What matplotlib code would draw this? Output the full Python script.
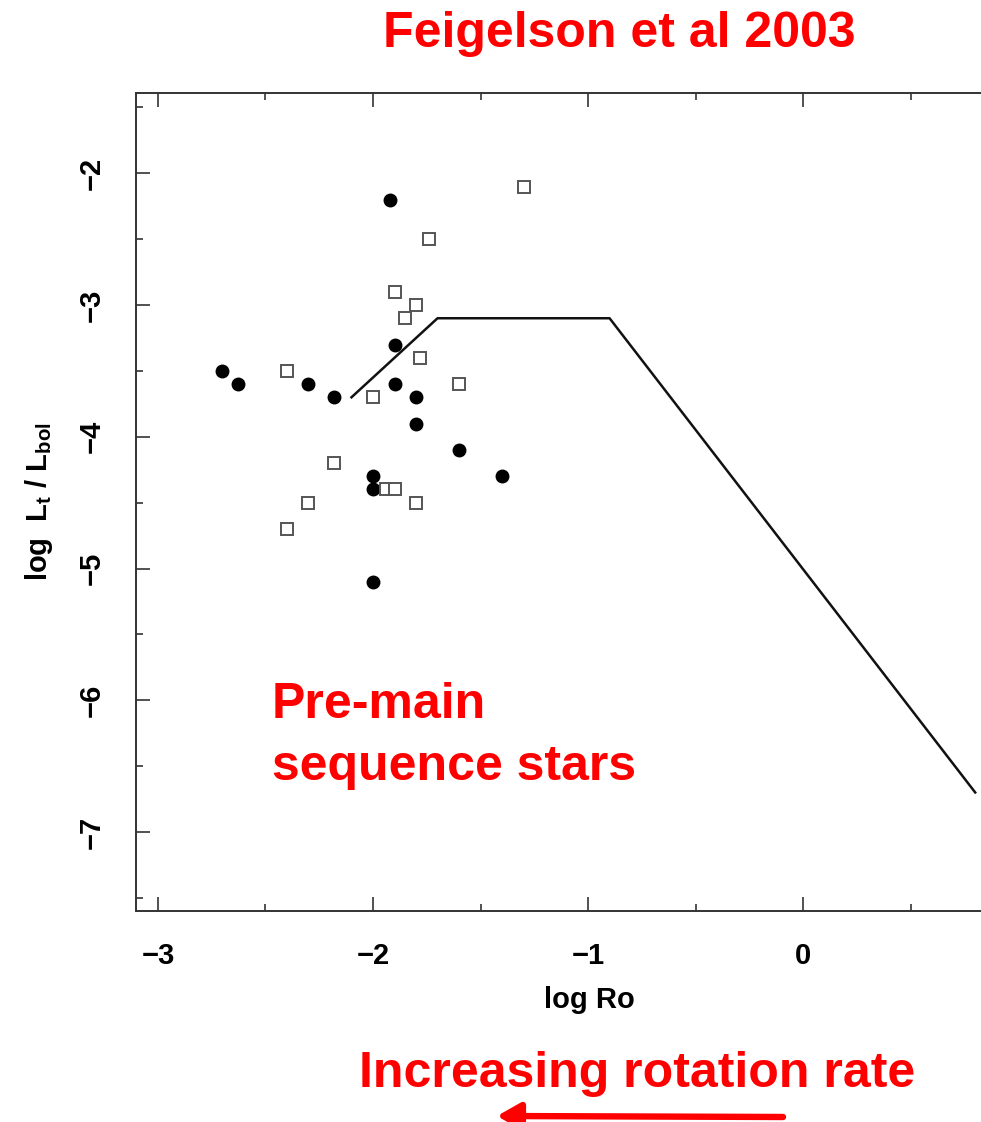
import numpy as np
import matplotlib.pyplot as plt
from matplotlib.patches import FancyArrowPatch
from matplotlib.ticker import MultipleLocator

# filled circles
circ_x = [-2.70, -2.63, -2.30, -2.18, -1.92, -1.90, -1.90, -1.80, -1.80, -1.60, -2.00, -1.40, -2.00, -2.00]
circ_y = [-3.50, -3.60, -3.60, -3.70, -2.20, -3.30, -3.60, -3.70, -3.90, -4.10, -4.30, -4.30, -4.40, -5.10]

# open squares
sq_x = [-1.30, -1.74, -1.90, -1.80, -1.85, -1.78, -2.40, -1.60, -2.00, -2.18, -1.94, -1.90, -2.30, -1.80, -2.40]
sq_y = [-2.10, -2.50, -2.90, -3.00, -3.10, -3.40, -3.50, -3.60, -3.70, -4.20, -4.40, -4.40, -4.50, -4.50, -4.70]

# saturation relation
rel_x = [-2.10, -1.70, -0.90, 0.80]
rel_y = [-3.70, -3.10, -3.10, -6.70]

W, H = 981, 1122
fig = plt.figure(figsize=(W / 100, H / 100), dpi=100)
ax = fig.add_axes([136 / W, 1 - 911 / H, (W - 136) / W, (911 - 93) / H])

ax.plot(rel_x, rel_y, color="#111111", lw=1.8, zorder=2)
ax.plot(circ_x, circ_y, "o", ms=9, color="black", zorder=3)
ax.plot(sq_x, sq_y, "s", ms=8, mfc="white", mec="#555555", mew=1.4, zorder=3)

ax.set_xlim(-3.102, 0.827)
ax.set_ylim(-7.60, -1.39)

ax.xaxis.set_major_locator(MultipleLocator(1))
ax.xaxis.set_minor_locator(MultipleLocator(0.5))
ax.yaxis.set_major_locator(MultipleLocator(1))
ax.yaxis.set_minor_locator(MultipleLocator(0.5))

ax.spines["right"].set_visible(False)
for s in ["left", "top", "bottom"]:
    ax.spines[s].set_linewidth(1.4)
    ax.spines[s].set_color("#333333")

ax.tick_params(which="both", direction="in", top=True, right=False, color="#333333", width=1.2)
ax.tick_params(which="major", length=10)
ax.tick_params(which="minor", length=5)
ax.tick_params(axis="x", pad=22)
ax.tick_params(axis="y", labelrotation=90, pad=22)

for lab in ax.get_xticklabels() + ax.get_yticklabels():
    lab.set_fontfamily("Liberation Sans")
    lab.set_fontweight("bold")
    lab.set_fontsize(21)
for lab in ax.get_yticklabels():
    lab.set_va("center")

ax.set_xlabel("log Ro", fontsize=21, fontweight="bold", family="Liberation Sans", labelpad=12,
              x=(589 - 136) / (W - 136))
ax.set_ylabel(r"log  L$_\mathregular{t}$ / L$_\mathregular{bol}$", fontsize=21, fontweight="bold",
              family="Liberation Sans", labelpad=16)

red = "#ff0000"
big = dict(color=red, fontsize=36, fontweight="bold", family="Liberation Sans", va="baseline")
fig.text(619 / W, 1 - 47 / H, "Feigelson et al 2003", ha="center", **big)
fig.text(272 / W, 1 - 718 / H, "Pre-main", ha="left", **big)
fig.text(272 / W, 1 - 780 / H, "sequence stars", ha="left", **big)
fig.text(637 / W, 1 - 1087 / H, "Increasing rotation rate", ha="center", **big)

fig.patches.append(FancyArrowPatch(
    (783 / W, 1 - 1117 / H), (497 / W, 1 - 1116 / H), transform=fig.transFigure,
    arrowstyle="-|>,head_length=0.7,head_width=0.4", color=red, lw=4.6,
    mutation_scale=20, shrinkA=0, shrinkB=0))

fig.savefig("out.png", dpi=100)
